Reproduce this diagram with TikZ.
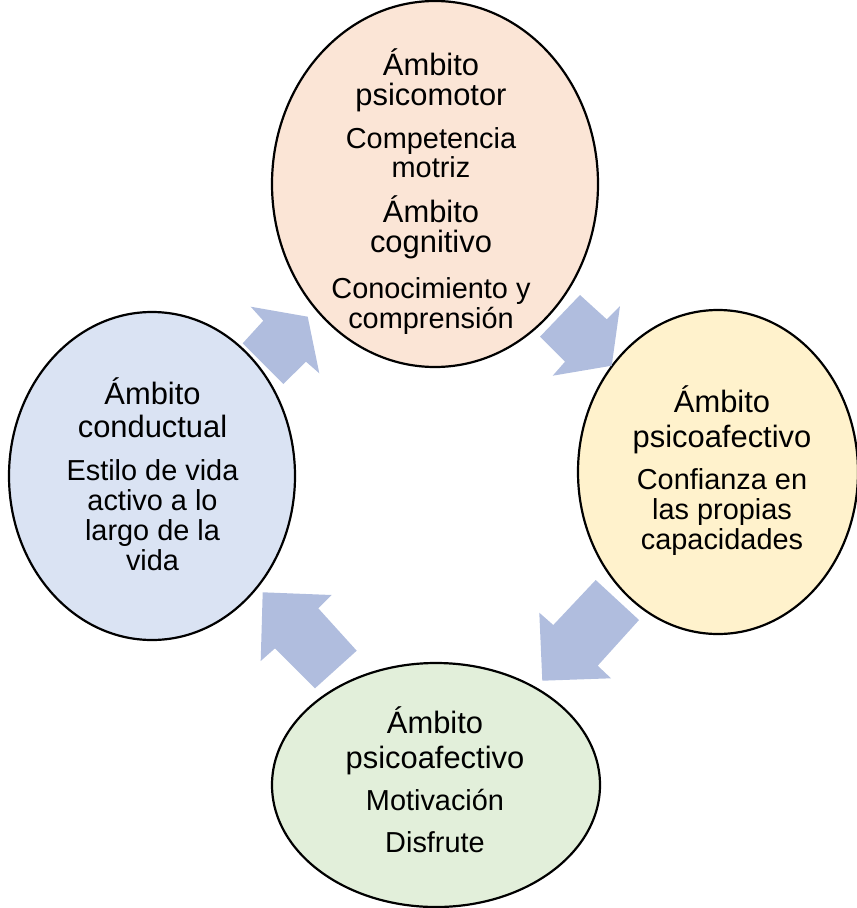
\documentclass[tikz,border=0pt]{standalone}
\usepackage{fontspec}
\setmainfont{Liberation Sans}
\usetikzlibrary{shapes.geometric}
\definecolor{arrowblue}{RGB}{176,189,222}
\definecolor{peachfill}{RGB}{251,229,214}
\definecolor{yellowfill}{RGB}{255,242,204}
\definecolor{greenfill}{RGB}{226,239,218}
\definecolor{bluefill}{RGB}{218,227,243}
\newcommand\subtxt[1]{{\fontsize{29}{30}\selectfont #1}}
\begin{document}
\begin{tikzpicture}[x=1bp,y=-1bp,
  bubble/.style={ellipse, draw=black, line width=2.2bp, inner sep=0pt},
  bubbletext/.style={align=center, font=\fontsize{31}{30}\selectfont, inner sep=0pt},
  blockarrow/.style={fill=arrowblue, draw=none}]
\useasboundingbox (0,0) rectangle (857,908);
% ellipses
\node[bubble, fill=peachfill, minimum width=326bp, minimum height=366bp] (top) at (435,184) {};
\node[bubble, fill=yellowfill, minimum width=280bp, minimum height=324bp] (right) at (718,472) {};
\node[bubble, fill=greenfill, minimum width=328bp, minimum height=244bp] (bottom) at (436,785) {};
\node[bubble, fill=bluefill, minimum width=286bp, minimum height=328bp] (left) at (152,476) {};
% texts
\node[bubbletext] (topT) at (431,191.5) {Ámbito\\psicomotor\\[13bp]\subtxt{Competencia}\\\subtxt{motriz}\\[15bp]Ámbito\\cognitivo\\[16bp]\subtxt{Conocimiento y}\\\subtxt{comprensión}};
\node[bubbletext] (rightT) at (722,470.5) {Ámbito\\[5bp]psicoafectivo\\[13bp]\subtxt{Confianza en}\\\subtxt{las propias}\\\subtxt{capacidades}};
\node[bubbletext] (bottomT) at (435,780) {Ámbito\\[5bp]psicoafectivo\\[12bp]\subtxt{Motivación}\\[12bp]\subtxt{Disfrute}};
\node[bubbletext] (leftT) at (152.5,474) {Ámbito\\[4bp]conductual\\[13bp]\subtxt{Estilo de vida}\\\subtxt{activo a lo}\\\subtxt{largo de la}\\\subtxt{vida}};
% block arrows
\fill[blockarrow] (307.7,316.7) -- (250.7,306.7) -- (263.3,320.7) -- (242.7,343.3) -- (283.3,384) -- (306,361.7) -- (319.3,373.3) -- cycle;
\fill[blockarrow] (611.7,365.7) -- (620,306) -- (606.7,319.3) -- (580,295) -- (540,336.7) -- (565,361.7) -- (552.7,375.7) -- cycle;
\fill[blockarrow] (542.3,680.7) -- (611,678.3) -- (597.7,665.7) -- (639,620) -- (595.7,580) -- (553.3,625) -- (539.3,612.7) -- cycle;
\fill[blockarrow] (262.7,592.3) -- (331.7,595) -- (318.3,608.3) -- (356.7,650.7) -- (315,688.3) -- (275,648.3) -- (260.7,661) -- cycle;
\end{tikzpicture}
\end{document}
